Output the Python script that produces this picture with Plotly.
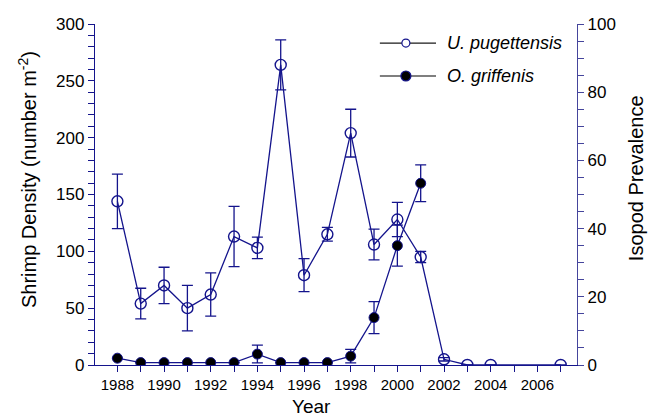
import plotly.graph_objects as go

# Shrimp density (U. pugettensis), mean and error, per survey year
years_up = [1988, 1989, 1990, 1991, 1992, 1993, 1994, 1995, 1996, 1997,
            1998, 1999, 2000, 2001, 2002, 2003, 2004, 2007]
up_mean = [144, 54, 70, 50, 62, 113, 103, 264, 79, 115,
           204, 106, 128, 95, 5, 0, 0, 0]
up_err = [24, 13.5, 16, 20, 19, 26.5, 9.5, 22, 14.5, 6,
          21, 13.5, 15, 5, 1.5, 0, 0, 0]

# Isopod prevalence (O. griffenis), mean and error
years_og = [1988, 1989, 1990, 1991, 1992, 1993, 1994, 1995, 1996, 1997,
            1998, 1999, 2000, 2001]
og_mean = [2, 0.7, 0.7, 0.7, 0.7, 0.7, 3.2, 0.7, 0.7, 0.7,
           2.6, 13.9, 35, 53.3]
og_err = [0, 0, 0, 0, 0, 0, 2.6, 0, 0, 0,
          2, 4.7, 6, 5.4]

NAVY = "#14148c"
AXIS2 = "#45459c"
FONT = "Liberation Sans, Arial, Helvetica, sans-serif"

fig = go.Figure()

fig.add_trace(go.Scatter(
    x=years_up, y=up_mean, mode="lines+markers", name="U. pugettensis",
    line=dict(color=NAVY, width=1.3),
    marker=dict(symbol="circle-open", size=11, color=NAVY, line=dict(width=1.4)),
    error_y=dict(type="data", array=up_err, visible=True, color=NAVY,
                 thickness=1.3, width=5.5),
    showlegend=False,
))

fig.add_trace(go.Scatter(
    x=years_og, y=og_mean, mode="lines+markers", name="O. griffenis",
    yaxis="y2",
    line=dict(color=NAVY, width=1.3),
    marker=dict(symbol="circle", size=10, color="black", line=dict(color=NAVY, width=1)),
    error_y=dict(type="data", array=og_err, visible=True, color=NAVY,
                 thickness=1.3, width=5.5),
    showlegend=False,
))

fig.update_layout(
    width=657, height=417,
    margin=dict(l=95, r=80, t=24, b=52),
    paper_bgcolor="white", plot_bgcolor="white",
    font=dict(family=FONT, color="black"),
    xaxis=dict(
        range=[1987.04, 2007.7], tickmode="linear", tick0=1988, dtick=2,
        showgrid=False, zeroline=False,
        showline=True, linecolor=NAVY, linewidth=1.3,
        ticks="outside", ticklen=6, tickwidth=1.3, tickcolor=NAVY,
        tickfont=dict(size=15, family=FONT),
        minor=dict(dtick=1, tick0=1987, ticks="outside", ticklen=6,
                   tickwidth=1.3, tickcolor=NAVY, showgrid=False),
    ),
    yaxis=dict(
        range=[0, 300], tickmode="linear", tick0=0, dtick=50,
        showgrid=False, zeroline=False,
        showline=True, linecolor=NAVY, linewidth=1.3,
        ticks="outside", ticklen=6, tickwidth=1.3, tickcolor=NAVY,
        tickfont=dict(size=17, family=FONT),
        minor=dict(dtick=10, ticks="outside", ticklen=6, tickwidth=1.3,
                   tickcolor=NAVY, showgrid=False),
    ),
    yaxis2=dict(
        range=[0, 100], overlaying="y", side="right",
        tickmode="linear", tick0=0, dtick=20,
        showgrid=False, zeroline=False,
        showline=True, linecolor=AXIS2, linewidth=1.3,
        ticks="outside", ticklen=6, tickwidth=1.3, tickcolor=AXIS2,
        tickfont=dict(size=17, family=FONT),
        minor=dict(dtick=5, ticks="outside", ticklen=6, tickwidth=1.3,
                   tickcolor=AXIS2, showgrid=False),
    ),
)

# Axis titles
fig.add_annotation(text="Shrimp Density (number m<sup>-2</sup>)", textangle=-90,
                   xref="paper", yref="paper", x=-0.141, y=0.5425,
                   xanchor="center", yanchor="middle", showarrow=False,
                   font=dict(size=20, family=FONT))
fig.add_annotation(text="Isopod Prevalence", textangle=-90,
                   xref="paper", yref="paper", x=1.1224, y=0.548,
                   xanchor="center", yanchor="middle", showarrow=False,
                   font=dict(size=20, family=FONT))
fig.add_annotation(text="Year", xref="paper", yref="paper", x=0.45, y=-0.123,
                   xanchor="center", yanchor="middle", showarrow=False,
                   font=dict(size=19, family=FONT))

# Legend drawn as line samples, symbols and italic labels
legend_rows = [
    ("U. pugettensis", 0.944, "#1a1a1a", "white", 8),
    ("O. griffenis", 0.8475, "#555555", "black", 10),
]
for label, ly, lcol, fill, msize in legend_rows:
    fig.add_shape(type="line", xref="paper", yref="paper",
                  x0=0.591, x1=0.7075, y0=ly, y1=ly,
                  line=dict(color=lcol, width=1.3))
    fig.add_shape(type="circle", xref="paper", yref="paper",
                  xsizemode="pixel", ysizemode="pixel",
                  xanchor=0.645, yanchor=ly,
                  x0=-msize / 2, x1=msize / 2, y0=-msize / 2, y1=msize / 2,
                  fillcolor=fill, line=dict(color=NAVY, width=1.2))
    fig.add_annotation(text=f"<i>{label}</i>", xref="paper", yref="paper",
                       x=0.726, y=ly, xanchor="left", yanchor="middle",
                       showarrow=False, font=dict(size=18, family=FONT))

fig.write_html("out.html")
